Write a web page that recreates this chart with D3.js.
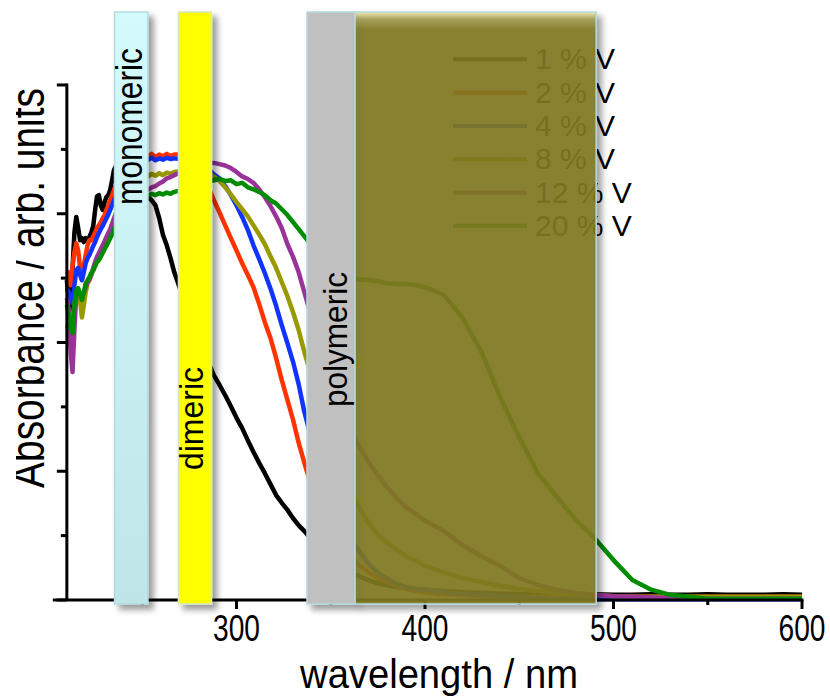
<!DOCTYPE html>
<html><head><meta charset="utf-8">
<script src="https://cdn.jsdelivr.net/npm/d3@7"></script>
<style>
body{margin:0;background:#fff;}
svg{display:block;font-family:"Liberation Sans",Arial,sans-serif;}
</style>
</head><body>
<svg id="chart" width="830" height="696"></svg>
<script>
// ---------- DATA ----------
const wavelengths = [
  210,211,212,213,214,215,216,217,218,219,220,221,222,223,224,225,226,227,228,229,230,231,232,233,234,235,236,
  240,245,250,
  253,255,257,259,261,263,265,267,
  270,275,280,285,
  288,291,294,297,300,303,306,309,312,315,318,321,324,327,330,333,336,
  340,345,350,355,360,365,370,375,380,385,390,395,400,
  410,420,430,440,450,460,470,480,490,500,510,520,530,540,550,560,570,580,590,600
];
const v1pct = [
  4.97,4.66,4.19,5.12,5.71,5.95,5.78,5.59,5.62,5.56,5.62,5.59,5.64,5.71,5.81,6.06,6.27,6.29,6.13,6.06,6.18,6.26,6.29,6.37,6.52,6.68,6.74,
  6.60,6.45,6.30,
  6.26,6.21,6.13,5.93,5.67,5.51,5.31,5.09,
  4.84,4.43,4.04,3.70,
  3.49,3.34,3.18,3.01,2.83,2.67,2.48,2.30,2.13,1.97,1.80,1.63,1.51,1.40,1.27,1.16,1.07,
  0.93,0.76,0.62,0.51,0.43,0.37,0.31,0.26,0.23,0.20,0.19,0.17,0.16,
  0.14,0.12,0.11,0.10,0.09,0.09,0.08,0.08,0.09,0.08,0.08,0.09,0.08,0.08,0.09,0.08,0.08,0.08,0.09,0.08
];
const v2pct = [
  5.05,5.09,4.89,5.20,5.40,5.54,5.43,5.16,4.97,5.20,5.36,5.51,5.59,5.59,5.65,5.71,5.78,5.82,5.87,5.93,5.98,6.06,6.13,6.21,6.29,6.37,6.44,
  6.70,6.85,6.90,
  6.90,6.93,6.88,6.92,6.89,6.93,6.90,6.92,
  6.92,6.88,6.68,6.42,
  6.21,6.02,5.82,5.62,5.43,5.23,5.05,4.86,4.60,4.32,4.07,3.76,3.42,3.11,2.80,2.44,2.13,
  1.74,1.40,1.09,0.85,0.67,0.54,0.43,0.34,0.28,0.22,0.17,0.14,0.12,
  0.09,0.08,0.06,0.05,0.05,0.05,0.05,0.05,0.05,0.05,0.05,0.05,0.05,0.05,0.05,0.05,0.05,0.05,0.05,0.05
];
const v4pct = [
  4.84,4.78,4.66,4.61,4.89,5.12,5.16,5.05,4.97,5.09,5.23,5.31,5.36,5.43,5.50,5.56,5.64,5.70,5.76,5.81,5.87,5.93,5.99,6.06,6.13,6.21,6.27,
  6.55,6.75,6.85,
  6.84,6.87,6.83,6.86,6.84,6.87,6.85,6.86,
  6.85,6.83,6.78,6.70,
  6.61,6.55,6.43,6.29,6.13,5.95,5.75,5.51,5.30,5.08,4.84,4.57,4.27,3.99,3.70,3.35,2.92,
  2.48,2.02,1.60,1.27,0.98,0.76,0.56,0.42,0.33,0.25,0.20,0.17,0.16,
  0.12,0.09,0.08,0.06,0.05,0.03,0.02,0.02,0.01,0.01,0.01,0.01,0.01,0.01,0.01,0.01,0.01,0.01,0.01,0.01
];
const v8pct = [
  4.27,4.19,4.32,4.39,4.58,4.77,4.84,4.66,4.39,4.58,4.78,4.92,4.97,5.05,5.12,5.20,5.28,5.34,5.40,5.47,5.53,5.59,5.67,5.75,5.84,5.93,6.01,
  6.30,6.50,6.60,
  6.58,6.62,6.59,6.63,6.60,6.64,6.62,6.65,
  6.66,6.67,6.66,6.63,
  6.58,6.51,6.41,6.30,6.18,6.07,5.96,5.82,5.68,5.53,5.34,5.16,4.94,4.72,4.47,4.19,3.85,
  3.45,2.95,2.48,2.10,1.75,1.44,1.20,1.01,0.89,0.78,0.68,0.61,0.53,
  0.43,0.34,0.28,0.22,0.17,0.14,0.11,0.09,0.08,0.06,0.05,0.05,0.05,0.05,0.05,0.05,0.05,0.05,0.05,0.05
];
const v12pct = [
  4.69,4.50,3.88,3.54,4.19,4.74,4.81,4.77,4.70,4.78,4.86,4.94,4.98,5.06,5.16,5.25,5.33,5.39,5.45,5.51,5.57,5.64,5.70,5.76,5.84,5.92,6.00,
  6.20,6.30,6.35,
  6.37,6.41,6.43,6.47,6.50,6.55,6.57,6.60,
  6.64,6.72,6.77,6.79,
  6.79,6.77,6.75,6.71,6.65,6.58,6.54,6.48,6.38,6.26,6.12,5.96,5.78,5.53,5.33,5.09,4.78,
  4.38,3.96,3.49,3.06,2.67,2.39,2.14,1.93,1.75,1.58,1.44,1.34,1.23,
  1.07,0.85,0.68,0.53,0.34,0.23,0.16,0.11,0.08,0.06,0.05,0.04,0.03,0.03,0.02,0.02,0.02,0.02,0.02,0.02
];
const v20pct = [
  4.58,4.43,4.22,4.15,4.58,4.81,4.84,4.74,4.66,4.78,4.92,4.97,5.02,5.08,5.12,5.19,5.25,5.28,5.33,5.39,5.45,5.50,5.56,5.62,5.68,5.76,5.82,
  6.05,6.20,6.28,
  6.28,6.31,6.29,6.32,6.30,6.33,6.31,6.34,
  6.36,6.42,6.47,6.50,
  6.52,6.54,6.51,6.52,6.46,6.48,6.41,6.38,6.34,6.29,6.21,6.16,6.07,5.98,5.87,5.76,5.65,
  5.50,5.33,5.19,5.09,5.03,4.98,4.97,4.95,4.92,4.91,4.91,4.89,4.86,
  4.74,4.38,3.85,3.14,2.53,1.96,1.60,1.24,0.96,0.62,0.31,0.16,0.08,0.05,0.02,0.02,0.02,0.02,0.02,0.02
];
const seriesLabels = ["1 % V","2 % V","4 % V","8 % V","12 % V","20 % V"];
const seriesColors = ["#000000","#ff3300","#1133ff","#999900","#993399","#008c00"];
const seriesValues = [v1pct, v2pct, v4pct, v8pct, v12pct, v20pct];

const bandNames = ["monomeric","dimeric","polymeric",""];
const bandStart = [235.3, 269.2, 337.4, 362.9];
const bandEnd   = [253.0, 286.7, 362.9, 490.8];

const xTickMajor = [300,400,500,600];
const xTickMinor = [250,350,450,550];
const yTickMajor = [0,2,4,6,8];
const yTickMinor = [1,3,5,7];

// ---------- CHART ----------
const svg = d3.select("#chart");
const x = d3.scaleLinear().domain([210,600]).range([66.85,802]);
const y = d3.scaleLinear().domain([0,8]).range([600,85]);

// fit a text horizontally (in its own direction) to a target length by scaling
function fitText(sel, target){
  sel.each(function(){
    const len = this.getComputedTextLength();
    const k = target / len;
    const t = this.getAttribute("data-t") || "";
    this.setAttribute("transform", t + ` scale(${k},1)`);
  });
}

const defs = svg.append("defs");
const sh = defs.append("filter").attr("id","shadow").attr("x","-20%").attr("y","-5%").attr("width","160%").attr("height","115%");
sh.append("feDropShadow").attr("dx",5).attr("dy",5).attr("stdDeviation",3)
  .attr("flood-color","#000").attr("flood-opacity",0.4);
const gMono = defs.append("linearGradient").attr("id","gMono").attr("x1",0).attr("y1",0).attr("x2",0).attr("y2",1);
gMono.append("stop").attr("offset","0%").attr("stop-color","#d4fbfb");
gMono.append("stop").attr("offset","100%").attr("stop-color","#bfe5e9");
const gOl = defs.append("linearGradient").attr("id","gOl").attr("x1",0).attr("y1",0).attr("x2",0).attr("y2",1);
gOl.append("stop").attr("offset","0%").attr("stop-color","#f0e8a8");
gOl.append("stop").attr("offset","1.2%").attr("stop-color","#a49c50");
gOl.append("stop").attr("offset","3%").attr("stop-color","#817921");
gOl.append("stop").attr("offset","100%").attr("stop-color","#817921");
defs.append("clipPath").attr("id","yClip").append("rect")
  .attr("x",16).attr("y",0).attr("width",100).attr("height",696);

// curves
const line = d3.line().x((d,i)=>x(wavelengths[i])).y(d=>y(d));
svg.append("g").selectAll("path").data(seriesValues).join("path")
  .attr("d", d=>line(d))
  .attr("fill","none")
  .attr("stroke",(d,i)=>seriesColors[i])
  .attr("stroke-width",4.5)
  .attr("stroke-linejoin","round");

// legend
const leg = svg.append("g");
const legItems = leg.selectAll("g").data(seriesLabels).join("g")
  .attr("transform",(d,i)=>`translate(453,${59.3+i*33.3})`);
legItems.append("line").attr("x1",0).attr("x2",74).attr("y1",0).attr("y2",0)
  .attr("stroke",(d,i)=>seriesColors[i]).attr("stroke-width",4);
legItems.append("text").attr("x",82).attr("y",10).attr("font-size",30).attr("fill","#000").text(d=>d);

// axes
const axisColor = "#000";
const gx = svg.append("g");
gx.append("line").attr("x1",x(210)-14).attr("x2",x(600)+1.5).attr("y1",y(0)).attr("y2",y(0))
  .attr("stroke",axisColor).attr("stroke-width",3);
gx.selectAll("line.maj").data(xTickMajor).join("line").attr("class","maj")
  .attr("x1",d=>x(d)).attr("x2",d=>x(d)).attr("y1",y(0)).attr("y2",y(0)+9)
  .attr("stroke",axisColor).attr("stroke-width",3);
gx.selectAll("line.min").data(xTickMinor).join("line").attr("class","min")
  .attr("x1",d=>x(d)).attr("x2",d=>x(d)).attr("y1",y(0)).attr("y2",y(0)+5)
  .attr("stroke",axisColor).attr("stroke-width",3);
gx.selectAll("text").data(xTickMajor).join("text")
  .attr("data-t",d=>`translate(${x(d)},641)`)
  .attr("text-anchor","middle").attr("font-size",36)
  .text(d=>d)
  .call(fitText, 47);

const gy = svg.append("g");
gy.append("line").attr("x1",x(210)).attr("x2",x(210)).attr("y1",y(8)-1.5).attr("y2",y(0))
  .attr("stroke",axisColor).attr("stroke-width",3);
gy.selectAll("line.maj").data(yTickMajor).join("line").attr("class","maj")
  .attr("x1",x(210)-10).attr("x2",x(210)).attr("y1",d=>y(d)).attr("y2",d=>y(d))
  .attr("stroke",axisColor).attr("stroke-width",3);
gy.selectAll("line.min").data(yTickMinor).join("line").attr("class","min")
  .attr("x1",x(210)-6).attr("x2",x(210)).attr("y1",d=>y(d)).attr("y2",d=>y(d))
  .attr("stroke",axisColor).attr("stroke-width",3);

// titles
svg.append("text").attr("data-t","translate(439,688)").attr("text-anchor","middle")
  .attr("font-size",40).text("wavelength / nm").call(fitText, 278);
svg.append("g").attr("clip-path","url(#yClip)")
  .append("text").attr("data-t","translate(44,288) rotate(-90)").attr("text-anchor","middle")
  .attr("font-size",48).text("Absorbance / arb. units").call(fitText, 400);

// bands (drawn over curves)
const bandTop = 12, bandBottom = 604;
const bandFill = ["url(#gMono)","#ffff00","#c0c0c0","url(#gOl)"];
const bandStroke = ["#b3dadd","#d4e8c0","#b3dadd","#b3dadd"];
const bandOpacity = [1,1,1,0.89];
const bands = svg.append("g");
bands.selectAll("rect").data(bandStart).join("rect")
  .attr("x",(d,i)=>x(d)).attr("width",(d,i)=>x(bandEnd[i])-x(d))
  .attr("y",bandTop).attr("height",bandBottom-bandTop)
  .attr("fill",(d,i)=>bandFill[i]).attr("fill-opacity",(d,i)=>bandOpacity[i])
  .attr("stroke",(d,i)=>bandStroke[i]).attr("stroke-width",1.5)
  .attr("filter","url(#shadow)");

// band labels
const labelPos = [
  {b:0, baseX:142, startY:205, size:37, len:157},
  {b:1, baseX:203, startY:470, size:34, len:103},
  {b:2, baseX:347, startY:407, size:34, len:135}
];
svg.append("g").selectAll("text").data(labelPos).join("text")
  .attr("data-t",d=>`translate(${d.baseX},${d.startY}) rotate(-90)`)
  .attr("font-size",d=>d.size)
  .text(d=>bandNames[d.b])
  .each(function(d){ d3.select(this).call(fitText, d.len); });
</script>
</body></html>
